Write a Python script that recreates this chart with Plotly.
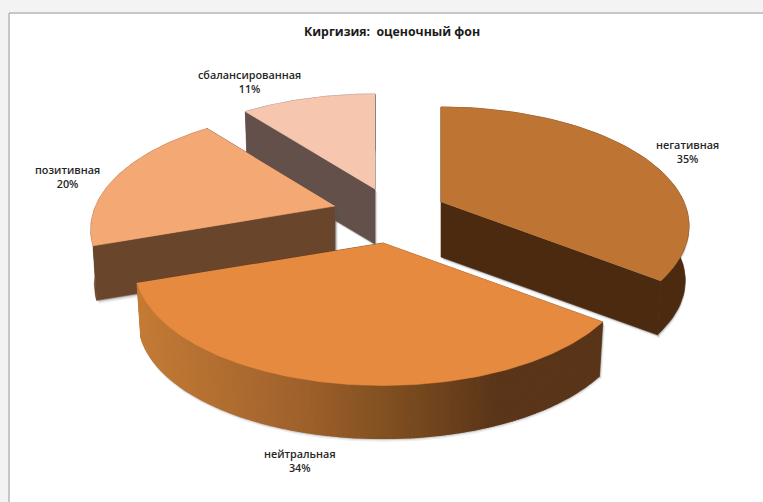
import numpy as np
import plotly.graph_objects as go

# Data
categories = ["негативная", "нейтральная", "позитивная", "сбалансированная"]
values = [35.4, 34.3, 19.7, 10.6]
title = "Киргизия:  оценочный фон"

# Style and 3D pie geometry (pixel space of the hidden axes)
W, H = 763, 502
top_colors = ["#BE7432", "#E58A3F", "#F4A975", "#F6C7AE"]
wall_colors = ["#4B2A10", "#5A3519", "#69452C", "#63504A"]
centers_x = [441, 383, 335, 375]
centers_y = [202, 243, 206, 189]
width_scale = [1.0, 1.0, 0.985, 1.0]
label_x = [687, 300, 67, 249]
label_y = [151, 460, 176, 81]
RX, RY, PERSP, DEPTH, SHRINK = 243, 114, 0.2, 55, 0.985
GRAD_X = [130, 300, 400, 500, 610]
GRAD_RGB = [(198, 125, 55), (160, 98, 44), (125, 77, 32), (90, 53, 25), (90, 53, 25)]
DRAW_ORDER = [3, 2, 0, 1]

fractions = np.array(values, dtype=float) / sum(values)
edges = np.concatenate([[0], np.cumsum(fractions)]) * 2 * np.pi


def project(theta, ax, ay, wscale):
    u, v = np.sin(theta), -np.cos(theta)
    s = 1 / (1 - PERSP * v)
    return ax + RX * wscale * u * s, ay + RY * v * s


def lower(x, y, ax, ay):
    return ax + (x - ax) * SHRINK, ay + (y - ay) * SHRINK + DEPTH


def poly(fig, xs, ys, color, line=None, lw=0.6):
    fig.add_trace(go.Scatter(
        x=list(xs), y=list(ys), mode="lines", fill="toself", fillcolor=color,
        line=dict(width=lw if line else 0, color=line or color),
        hoverinfo="skip", showlegend=False))


fig = go.Figure()

for i in DRAW_ORDER:
    ax, ay = centers_x[i], centers_y[i]
    th = np.linspace(edges[i], edges[i + 1], 181 if i == 1 else 61)
    x, y = project(th, ax, ay, width_scale[i])
    bx, by = lower(x, y, ax, ay)
    abx, aby = ax, ay + DEPTH

    # soft shadow below the solid
    for off, alpha in ((3.5, 0.10), (2, 0.20), (1, 0.30)):
        poly(fig, np.r_[x, bx[::-1]] + off * 0.2, np.r_[y, by[::-1]] + off,
             f"rgba(90,90,90,{alpha})")
        poly(fig, [ax + off * .7, x[0] + off * .7, bx[0] + off * .7, abx + off * .7],
             [ay + off, y[0] + off, by[0] + off, aby + off], f"rgba(90,90,90,{alpha})")
        poly(fig, [ax + off * .7, x[-1] + off * .7, bx[-1] + off * .7, abx + off * .7],
             [ay + off, y[-1] + off, by[-1] + off, aby + off], f"rgba(90,90,90,{alpha})")

    # radial walls
    poly(fig, [ax, x[0], bx[0], abx], [ay, y[0], by[0], aby], wall_colors[i], wall_colors[i])
    poly(fig, [ax, x[-1], bx[-1], abx], [ay, y[-1], by[-1], aby], wall_colors[i], wall_colors[i])

    # outer rim
    if i == 1:
        for k in range(len(th) - 1):
            mx = (x[k] + x[k + 1]) / 2
            rgb = [np.interp(mx, GRAD_X, [c[j] for c in GRAD_RGB]) for j in range(3)]
            col = "rgb(%d,%d,%d)" % tuple(rgb)
            poly(fig, [x[k], x[k + 1], bx[k + 1], bx[k]], [y[k], y[k + 1], by[k + 1], by[k]], col, col, 1.5)
    else:
        poly(fig, np.r_[x, bx[::-1]], np.r_[y, by[::-1]], wall_colors[i], wall_colors[i])

    # top face
    poly(fig, np.r_[ax, x], np.r_[ay, y], top_colors[i], top_colors[i])

for cat, val, lx, ly in zip(categories, values, label_x, label_y):
    fig.add_annotation(x=lx, y=ly, text=f"{cat}<br>{round(val)}%", showarrow=False,
                       align="center", xanchor="center", yanchor="middle",
                       font=dict(family="Open Sans", size=10.8, color="#262626", weight=600))

# window frame
shapes = [
    dict(type="rect", x0=0, x1=W, y0=0, y1=12, fillcolor="#F3F3F3", line_width=0, layer="below"),
    dict(type="rect", x0=0, x1=8, y0=0, y1=H, fillcolor="#F3F3F3", line_width=0, layer="below"),
    dict(type="line", x0=9, x1=W, y0=13, y1=13, line=dict(color="#B4B4B4", width=1.5), layer="below"),
    dict(type="line", x0=9, x1=9, y0=13, y1=H, line=dict(color="#B4B4B4", width=1.5), layer="below"),
]

fig.update_layout(
    width=W, height=H, margin=dict(l=0, r=0, t=0, b=0),
    paper_bgcolor="white", plot_bgcolor="white", showlegend=False, shapes=shapes,
    xaxis=dict(range=[0, W], visible=False, fixedrange=True),
    yaxis=dict(range=[H, 0], visible=False, fixedrange=True),
)
fig.add_annotation(x=392, y=31, text=f"<b>{title}</b>", showarrow=False,
                   font=dict(family="Open Sans", size=12.3, color="#1a1a1a"))
fig.write_html("out.html", config={"displayModeBar": False},
               post_script="document.body.style.margin='0';document.body.style.overflow='hidden';")
